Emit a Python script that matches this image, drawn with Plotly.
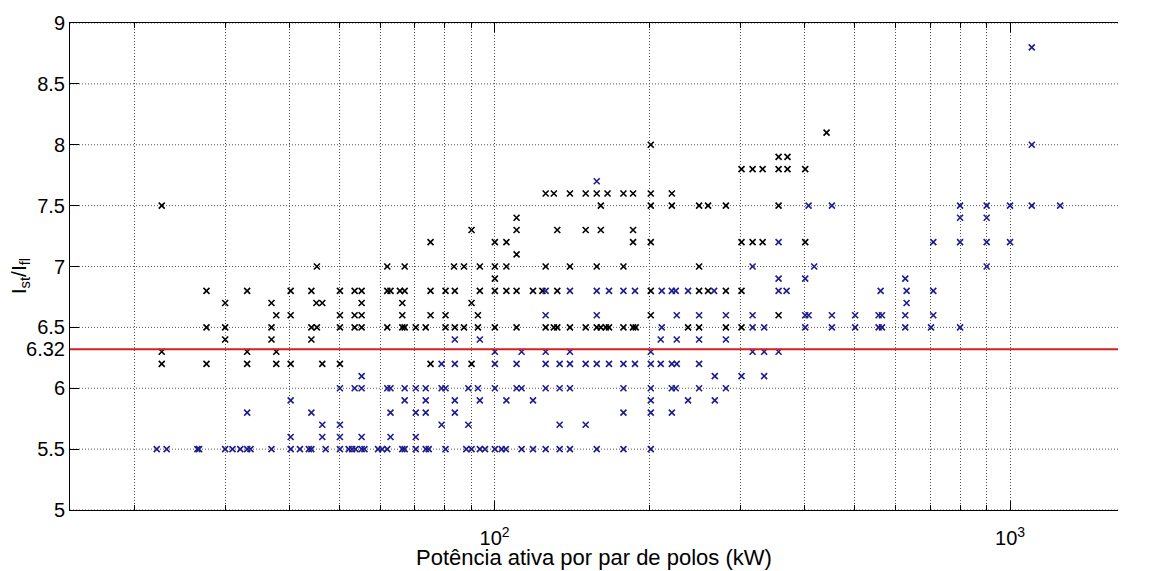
import math
import plotly.graph_objects as go

# Active power per pole pair (kW) and starting-current ratio Ist/Ifl
black_x = [
    22.6, 27.6, 30.0, 27.6, 30.0, 30.0, 22.6, 22.6, 27.6,
    45.2, 61.9, 66.9,
    33.1, 40.2, 44.1, 50.1, 53.5, 55.2, 61.9, 62.8, 65.5, 66.9,
    36.9, 45.1, 46.3, 55.2, 66.2,
    37.7, 40.2, 50.1, 53.5, 55.2, 66.2,
    36.9, 44.1, 45.2, 50.1, 53.5, 55.2, 61.9, 66.2, 66.9, 70.3,
    36.9, 44.1, 33.1, 37.7, 33.1, 37.7, 40.2, 46.3, 50.1,
    125.6, 130.3, 140.0, 150.2,
    110.3,
    90.2, 110.3, 132.3, 150.2,
    75.1, 100.1, 105.4,
    110.3,
    83.4, 87.2, 93.6, 100.1, 105.4, 125.6, 140.0,
    100.1,
    75.1, 80.3, 83.7, 93.6, 100.1, 105.4, 110.3, 118.7, 123.8, 132.3,
    90.2,
    75.1, 80.3, 92.8,
    73.5, 80.3, 83.7, 87.2, 92.8, 100.1, 110.3, 125.6, 130.3, 132.3, 140.0, 150.2,
    75.1, 90.2,
    200.9,
    301.3, 316.6, 331.1,
    157.8, 165.6, 177.8, 185.6, 200.9, 220.7,
    160.7, 200.9, 220.7, 249.3, 259.5, 281.0,
    160.7, 185.6,
    185.6, 200.9, 301.3, 316.6, 331.1,
    157.8, 177.8, 249.3,
    200.9, 249.3, 259.5, 281.0, 301.3,
    200.9,
    157.8, 160.7, 164.3, 166.7, 177.8, 185.6, 187.8, 237.3, 249.3, 281.0, 301.3,
    440.6,
    355.6, 370.0,
    355.6, 370.0, 400.5,
    355.6,
    400.5,
    355.6,
]
black_y = [
    7.5, 6.8, 6.7, 6.5, 6.5, 6.4, 6.3, 6.2, 6.2,
    7.0, 7.0, 7.0,
    6.8, 6.8, 6.8, 6.8, 6.8, 6.8, 6.8, 6.8, 6.8, 6.8,
    6.7, 6.7, 6.7, 6.7, 6.7,
    6.6, 6.6, 6.6, 6.6, 6.6, 6.6,
    6.5, 6.5, 6.5, 6.5, 6.5, 6.5, 6.5, 6.5, 6.5, 6.5,
    6.4, 6.4, 6.3, 6.3, 6.2, 6.2, 6.2, 6.2, 6.2,
    7.6, 7.6, 7.6, 7.6,
    7.4,
    7.3, 7.3, 7.3, 7.3,
    7.2, 7.2, 7.2,
    7.1,
    7.0, 7.0, 7.0, 7.0, 7.0, 7.0, 7.0,
    6.9,
    6.8, 6.8, 6.8, 6.8, 6.8, 6.8, 6.8, 6.8, 6.8, 6.8,
    6.7,
    6.6, 6.6, 6.6,
    6.5, 6.5, 6.5, 6.5, 6.5, 6.5, 6.5, 6.5, 6.5, 6.5, 6.5, 6.5,
    6.2, 6.2,
    8.0,
    7.8, 7.8, 7.8,
    7.6, 7.6, 7.6, 7.6, 7.6, 7.6,
    7.5, 7.5, 7.5, 7.5, 7.5, 7.5,
    7.3, 7.3,
    7.2, 7.2, 7.2, 7.2, 7.2,
    7.0, 7.0, 7.0,
    6.8, 6.8, 6.8, 6.8, 6.8,
    6.6,
    6.5, 6.5, 6.5, 6.5, 6.5, 6.5, 6.5, 6.5, 6.5, 6.5, 6.5,
    8.1,
    7.9, 7.9,
    7.8, 7.8, 7.8,
    7.5,
    7.2,
    6.6,
]

blue_x = [
    22.1, 23.1, 26.5, 26.7, 30.0, 31.0, 32.1,
    55.2,
    50.1, 53.5, 55.2, 61.9, 62.8, 66.9, 70.3,
    40.2, 66.9,
    33.1, 44.1, 62.8, 70.3,
    46.3, 50.1,
    40.2, 46.3, 50.1, 55.2, 62.8, 70.3,
    33.1, 33.6, 36.9, 40.2, 41.9, 43.6, 44.1, 47.0, 50.1, 52.1, 52.9, 53.7,
    55.2, 55.9, 59.4, 60.5, 61.9, 66.2, 66.9, 70.3,
    125.6, 140.0, 125.6,
    83.7, 93.6,
    100.1, 112.8, 125.6, 140.0,
    78.9, 83.7, 100.1, 110.3, 125.6, 133.7, 140.0, 150.2,
    73.5, 78.9, 80.3, 88.9, 92.8, 100.1, 110.3, 112.8, 125.6, 133.7, 140.0,
    73.5, 83.7, 93.6, 105.4, 118.7,
    73.5, 83.7,
    78.9, 88.9, 133.7, 150.2,
    73.5, 74.5, 80.3, 88.1, 90.2, 93.6, 95.8, 100.1, 103.2, 105.1, 112.8,
    118.7, 125.6, 133.7, 140.0,
    157.8,
    316.6,
    157.8, 166.7, 177.8, 187.2, 211.0, 220.7, 224.6, 237.3, 266.6,
    157.8, 225.6, 249.3, 281.0, 316.6,
    211.0, 316.6, 333.4,
    210.0, 225.6, 249.3, 281.0,
    200.9, 316.6, 333.4, 355.6,
    157.8, 166.7, 177.8, 187.2, 200.9, 210.0, 220.7, 225.6, 249.3,
    267.4, 301.3, 333.4,
    177.8, 200.9, 220.7, 224.6, 249.3, 281.0,
    200.9, 237.3, 267.4,
    177.8, 200.9, 220.7,
    157.8, 177.8, 200.9,
    406.6, 451.2,
    355.6, 709.8,
    416.9,
    355.6, 400.5, 626.2,
    355.6, 368.5, 561.0, 630.0, 709.8,
    630.0,
    400.5, 406.6, 451.2, 500.6, 555.9, 564.3, 626.2, 709.8,
    400.5, 451.2, 500.6, 555.9, 564.3, 626.2, 702.6,
    1102, 1102,
    800, 901, 1000, 1102, 1251,
    800, 901,
    800, 901, 1000,
    901,
    800,
]
blue_y = [
    5.5, 5.5, 5.5, 5.5, 5.5, 5.5, 5.5,
    6.1,
    6.0, 6.0, 6.0, 6.0, 6.0, 6.0, 6.0,
    5.9, 5.9,
    5.8, 5.8, 5.8, 5.8,
    5.7, 5.7,
    5.6, 5.6, 5.6, 5.6, 5.6, 5.6,
    5.5, 5.5, 5.5, 5.5, 5.5, 5.5, 5.5, 5.5, 5.5, 5.5, 5.5, 5.5,
    5.5, 5.5, 5.5, 5.5, 5.5, 5.5, 5.5, 5.5,
    6.8, 6.8, 6.6,
    6.4, 6.4,
    6.3, 6.3, 6.3, 6.3,
    6.2, 6.2, 6.2, 6.2, 6.2, 6.2, 6.2, 6.2,
    6.0, 6.0, 6.0, 6.0, 6.0, 6.0, 6.0, 6.0, 6.0, 6.0, 6.0,
    5.9, 5.9, 5.9, 5.9, 5.9,
    5.8, 5.8,
    5.7, 5.7, 5.7, 5.7,
    5.5, 5.5, 5.5, 5.5, 5.5, 5.5, 5.5, 5.5, 5.5, 5.5, 5.5,
    5.5, 5.5, 5.5, 5.5,
    7.7,
    7.0,
    6.8, 6.8, 6.8, 6.8, 6.8, 6.8, 6.8, 6.8, 6.8,
    6.6, 6.6, 6.6, 6.6, 6.6,
    6.5, 6.5, 6.5,
    6.4, 6.4, 6.4, 6.4,
    6.3, 6.3, 6.3, 6.3,
    6.2, 6.2, 6.2, 6.2, 6.2, 6.2, 6.2, 6.2, 6.2,
    6.1, 6.1, 6.1,
    6.0, 6.0, 6.0, 6.0, 6.0, 6.0,
    5.9, 5.9, 5.9,
    5.8, 5.8, 5.8,
    5.5, 5.5, 5.5,
    7.5, 7.5,
    7.2, 7.2,
    7.0,
    6.9, 6.9, 6.9,
    6.8, 6.8, 6.8, 6.8, 6.8,
    6.7,
    6.6, 6.6, 6.6, 6.6, 6.6, 6.6, 6.6, 6.6,
    6.5, 6.5, 6.5, 6.5, 6.5, 6.5, 6.5,
    8.8, 8.0,
    7.5, 7.5, 7.5, 7.5, 7.5,
    7.4, 7.4,
    7.2, 7.2, 7.2,
    7.0,
    6.5,
]

mean_ratio = 6.32

x_major = [100, 1000]
x_major_text = ["10<sup>2</sup>", "10<sup>3</sup>"]
x_minor = [20, 30, 40, 50, 60, 70, 80, 90, 200, 300, 400, 500, 600, 700, 800, 900]
y_ticks = [5, 5.5, 6, 6.32, 6.5, 7, 7.5, 8, 8.5, 9]
y_grid = [5, 5.5, 6, 6.5, 7, 7.5, 8, 8.5, 9]
y_text = ["5", "5.5", "6", "6.32", "6.5", "7", "7.5", "8", "8.5", "9"]

FONT = "Liberation Sans, Arial, sans-serif"
DOT = "1px,2px"
GRID = "#555555"

W, H = 1161, 571
ML, MR, MT, MB = 70, 43, 16, 61
plot_w = W - ML - MR
plot_h = H - MT - MB

fig = go.Figure()

# dotted horizontal grid at the round y values only
for yv in y_grid:
    fig.add_shape(type="line", xref="paper", x0=0, x1=1, yref="y", y0=yv, y1=yv,
                  line=dict(color=GRID, width=1, dash=DOT), layer="below")

fig.add_trace(go.Scatter(
    x=black_x, y=black_y, mode="markers", showlegend=False,
    marker=dict(symbol="x-thin", size=6, color="black",
                line=dict(width=1.6, color="black")),
))
fig.add_trace(go.Scatter(
    x=blue_x, y=blue_y, mode="markers", showlegend=False,
    marker=dict(symbol="x-thin", size=6, color="#1c1c8c",
                line=dict(width=1.6, color="#1c1c8c")),
))

fig.add_shape(type="line", xref="paper", x0=0, x1=1, yref="y",
              y0=mean_ratio, y1=mean_ratio,
              line=dict(color="#d42020", width=2))

# y-axis title placed close to the axis, beside the tick labels
fig.add_annotation(
    text="I<sub>st</sub>/I<sub>fl</sub>", textangle=-90,
    xref="paper", x=-(ML - 20) / plot_w, xanchor="center",
    yref="paper", y=0.48, yanchor="middle",
    showarrow=False, font=dict(size=21, family=FONT, color="black"),
)

# x-axis title as an annotation below the tick labels
fig.add_annotation(
    text="Potência ativa por par de polos (kW)",
    xref="paper", x=0.5, xanchor="center",
    yref="paper", y=-(558 - (H - MB)) / plot_h, yanchor="middle",
    showarrow=False, font=dict(size=22, family=FONT, color="black"),
)

fig.update_layout(
    width=W, height=H,
    margin=dict(l=ML, r=MR, t=MT, b=MB),
    paper_bgcolor="white", plot_bgcolor="white",
    font=dict(family=FONT, size=20, color="black"),
    xaxis=dict(
        type="log", range=[math.log10(15), math.log10(1620)],
        tickmode="array", tickvals=x_major, ticktext=x_major_text,
        ticks="inside", ticklen=9, tickwidth=1, tickcolor="black",
        ticklabelstandoff=10,
        showline=True, linecolor="black", linewidth=1, mirror="ticks",
        showgrid=True, gridcolor=GRID, griddash=DOT, gridwidth=1,
        minor=dict(tickmode="array", tickvals=x_minor, ticks="inside",
                   ticklen=5, tickcolor="black", showgrid=True,
                   gridcolor=GRID, griddash=DOT, gridwidth=1),
        zeroline=False,
        tickfont=dict(size=20),
    ),
    yaxis=dict(
        range=[5, 9], tickmode="array", tickvals=y_ticks, ticktext=y_text,
        ticks="inside", ticklen=9, tickwidth=1, tickcolor="black",
        showline=True, linecolor="black", linewidth=1, mirror=False,
        showgrid=False, zeroline=False,
        tickfont=dict(size=20),
    ),
)

fig.write_html("out.html")
